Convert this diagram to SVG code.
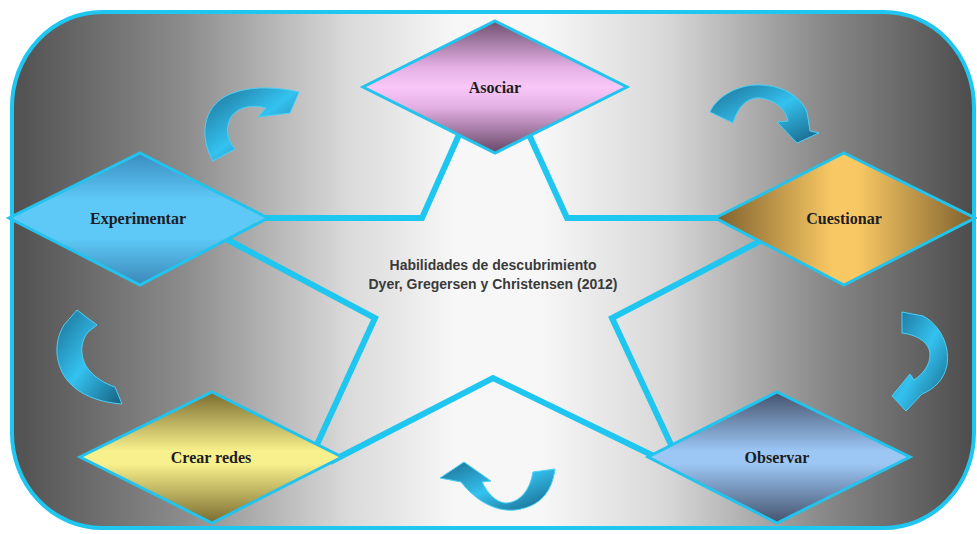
<svg xmlns="http://www.w3.org/2000/svg" width="977" height="534" viewBox="0 0 977 534">
<defs>
<linearGradient id="bg" x1="0" y1="0" x2="1" y2="0">
<stop offset="0" stop-color="#505050"/>
<stop offset="0.18" stop-color="#8c8c8c"/>
<stop offset="0.35" stop-color="#dadada"/>
<stop offset="0.46" stop-color="#f7f7f7"/>
<stop offset="0.55" stop-color="#f7f7f7"/>
<stop offset="0.68" stop-color="#d8d8d8"/>
<stop offset="0.84" stop-color="#8a8a8a"/>
<stop offset="1" stop-color="#4c4c4c"/>
</linearGradient>
<linearGradient id="gAso" x1="0" y1="0" x2="0" y2="1">
<stop offset="0" stop-color="#6f506f"/>
<stop offset="0.35" stop-color="#e4b0e4"/>
<stop offset="0.5" stop-color="#f8c8f8"/>
<stop offset="0.65" stop-color="#e4b0e4"/>
<stop offset="1" stop-color="#664766"/>
</linearGradient>
<linearGradient id="gExp" x1="0" y1="0" x2="0" y2="1">
<stop offset="0" stop-color="#3a8cc0"/>
<stop offset="0.35" stop-color="#5ec8f6"/>
<stop offset="0.65" stop-color="#5ec8f6"/>
<stop offset="1" stop-color="#3a88b8"/>
</linearGradient>
<linearGradient id="gCue" x1="0" y1="0" x2="1" y2="0">
<stop offset="0" stop-color="#7e602e"/>
<stop offset="0.45" stop-color="#f8c864"/>
<stop offset="0.55" stop-color="#f8c864"/>
<stop offset="1" stop-color="#7e602e"/>
</linearGradient>
<linearGradient id="gCre" x1="0" y1="0" x2="0" y2="1">
<stop offset="0" stop-color="#7a6c30"/>
<stop offset="0.45" stop-color="#f8f08c"/>
<stop offset="0.55" stop-color="#f8f08c"/>
<stop offset="1" stop-color="#7a6c30"/>
</linearGradient>
<linearGradient id="gObs" x1="0" y1="0" x2="0" y2="1">
<stop offset="0" stop-color="#44526c"/>
<stop offset="0.45" stop-color="#9cc6f4"/>
<stop offset="0.55" stop-color="#9cc6f4"/>
<stop offset="1" stop-color="#44526c"/>
</linearGradient>
<linearGradient id="gArr" x1="0" y1="0" x2="1" y2="1">
<stop offset="0" stop-color="#1c6e92"/>
<stop offset="0.5" stop-color="#34c2f0"/>
<stop offset="1" stop-color="#165f80"/>
</linearGradient>
<style>
.dia{stroke:#22c4ee;stroke-width:3;stroke-linejoin:miter}
.lbl{font-family:"Liberation Serif","Times New Roman",serif;font-weight:bold;font-size:16px;fill:#1c1c24;text-anchor:middle}
.ctr{font-family:"Liberation Sans",Arial,sans-serif;font-weight:bold;font-size:14px;fill:#3a3a3a;text-anchor:middle}
.lnk{fill:none;stroke:#1ec6f0;stroke-width:6;stroke-linejoin:miter}
.arr{fill:url(#gArr);stroke:#4cd0f6;stroke-width:1}
</style>
</defs>
<rect id="background" x="12" y="12" width="962" height="516" rx="90" ry="95" fill="url(#bg)" stroke="#1ec6f0" stroke-width="4"/>
<g id="connectors">
<polyline class="lnk" points="462,128 422,218 260,218"/>
<polyline class="lnk" points="526,128 567,218 725,218"/>
<polyline class="lnk" points="224,238 375,318 314,451"/>
<polyline class="lnk" points="330,462 493,378 660,459"/>
<polyline class="lnk" points="766,238 612,318 674,451"/>
</g>
<g id="asociar">
<polygon class="dia" points="495,21 627,87 495,153 363,87" fill="url(#gAso)"/>
<text class="lbl" x="495" y="93">Asociar</text>
</g>
<g id="experimentar">
<polygon class="dia" points="140,153 268,218 140,285 9,218" fill="url(#gExp)"/>
<text class="lbl" x="138" y="224">Experimentar</text>
</g>
<g id="cuestionar">
<polygon class="dia" points="844,153 975,218 844,285 715,218" fill="url(#gCue)"/>
<text class="lbl" x="844" y="224">Cuestionar</text>
</g>
<g id="crear-redes">
<polygon class="dia" points="212,392 342,457 212,523 80,457" fill="url(#gCre)"/>
<text class="lbl" x="211" y="463">Crear redes</text>
</g>
<g id="observar">
<polygon class="dia" points="777,392 910,457 777,523 648,457" fill="url(#gObs)"/>
<text class="lbl" x="777" y="463">Observar</text>
</g>
<g id="cycle-arrows">
<path class="arr" d="M213,161 C199,137 203,108 226,96 C246,86 272,86 299,92 L290,113 L258,117 L266,108 C252,104 238,107 231,117 C225,127 227,140 235,149 Z"/>
<path class="arr" d="M710,112 C716,98 735,86 755,85 C780,84 800,95 807,112 L810,131 L819,133 L797,143 L777,122 L788,121 C786,110 776,100 760,98 C748,97 738,106 733,123 Z"/>
<path class="arr" d="M902,312 L923,316 C940,325 950,345 947,365 C944,380 934,389 922,394 L906,411 L892,396 L910,374 L914,380 C923,374 930,365 930,355 C930,343 918,335 902,333 Z"/>
<path class="arr" d="M122,404 C95,402 72,392 62,372 C54,355 56,338 64,325 L77,310 L97,325 L88,332 C80,342 80,355 86,366 C94,378 106,384 115,387 Z"/>
<path class="arr" d="M533,472 L555,469 C552,492 540,507 515,510 C495,512 475,500 461,482 L440,478 L464,462 L491,481 L482,482 C488,494 496,502 505,503 C520,503 530,490 533,472 Z"/>
</g>
<g id="title">
<text class="ctr" x="493" y="270">Habilidades de descubrimiento</text>
<text class="ctr" x="493" y="289">Dyer, Gregersen y Christensen (2012)</text>
</g>
</svg>
